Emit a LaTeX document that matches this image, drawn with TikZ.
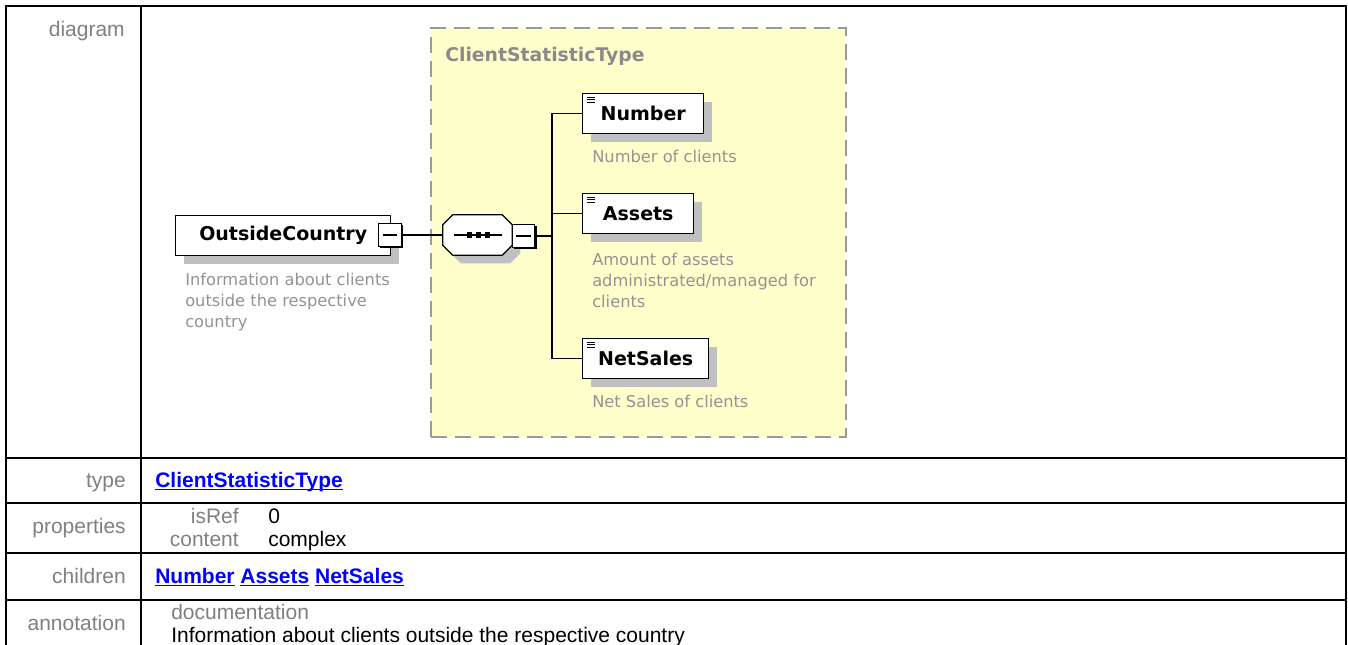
\documentclass[tikz,border=0pt]{standalone}
\usepackage{fontspec}
\setmainfont{Liberation Sans}
\newfontfamily\dvs{DejaVu Sans}
\usetikzlibrary{shadows}
\definecolor{yel}{HTML}{FFFFCC}
\definecolor{dashgray}{HTML}{9A9A9A}
\definecolor{tgray}{HTML}{8A8A8A}
\definecolor{dgray}{HTML}{939393}
\definecolor{lgray}{HTML}{808080}
\definecolor{shgray}{HTML}{C0C0C0}
\definecolor{linkblue}{HTML}{0000FF}
\newcommand\lnk[1]{\setbox0\hbox{#1}\rlap{\rule[-2.4pt]{\wd0}{1.2pt}}\box0\relax}
% octagon around a node: #1 node, #2 #3 offset in px
\newcommand\octo[3]{([shift={(#2+10,#3)}]#1.north west) -- ([shift={(#2-10,#3)}]#1.north east)
  -- ([shift={(#2,#3+10)}]#1.north east) -- ([shift={(#2,#3-10)}]#1.south east)
  -- ([shift={(#2-10,#3)}]#1.south east) -- ([shift={(#2+10,#3)}]#1.south west)
  -- ([shift={(#2,#3-10)}]#1.south west) -- ([shift={(#2,#3+10)}]#1.north west) -- cycle}
\begin{document}
\begin{tikzpicture}[x=0.75pt,y=-0.75pt,
  tline/.style={line width=1.5pt},
  tlabel/.style={inner sep=0, text=lgray, font=\fontsize{15.75pt}{18pt}\selectfont},
  tval/.style={inner sep=0, text=black, font=\fontsize{15.75pt}{18pt}\selectfont},
  tlink/.style={inner sep=0, text=linkblue, font=\fontsize{15.75pt}{18pt}\selectfont\bfseries},
  typebox/.style={draw=dashgray, fill=yel, line width=1.5pt, dash pattern=on 12pt off 6pt, inner sep=0, anchor=north west},
  elem/.style={draw=black, line width=1.1pt, fill=white, inner sep=0, minimum height=30pt, anchor=north west,
    font=\dvs\bfseries\fontsize{14.25pt}{16pt}\selectfont,
    drop shadow={shadow xshift=6pt, shadow yshift=-6pt, fill=shgray, opacity=1}},
  desc/.style={inner sep=0, anchor=north west, align=left, text=dgray, font=\dvs\fontsize{12.2pt}{15.75pt}\selectfont},
  minus/.style={draw=black, line width=0.8pt, fill=white, minimum size=17pt, inner sep=0,
    drop shadow={shadow xshift=1.3pt, shadow yshift=-1.3pt, fill=black, opacity=1},
    path picture={\draw[line width=0.9pt] ([xshift=3pt]path picture bounding box.west) -- ([xshift=-3pt]path picture bounding box.east);}},
  seqbox/.style={inner sep=0, minimum width=51.75pt, minimum height=30pt},
  conn/.style={line width=1pt},
  icon/.style={line width=0.7pt},
]
\useasboundingbox (0,0) rectangle (1348,645);
% table
\draw[tline] (6,646) -- (6,6) -- (1346,6) -- (1346,646);
\draw[tline] (141,6) -- (141,646);
\foreach \yy in {458,503,553,600} \draw[tline] (6,\yy) -- (1346,\yy);
\node[tlabel, anchor=base east] (ldiagram) at (125,37) {diagram};
\node[tlabel, anchor=base east] (ltype) at (126,487) {type};
\node[tlabel, anchor=base east] (lprops) at (126,533) {properties};
\node[tlabel, anchor=base east] (lchildren) at (126,583) {children};
\node[tlabel, anchor=base east] (lannot) at (126,630) {annotation};
\node[tlink, anchor=base west] (vtype) at (155,487) {\lnk{ClientStatisticType}};
\node[tlabel, anchor=base east] (kisref) at (239,523) {isRef};
\node[tval, anchor=base west] (visref) at (268,523) {0};
\node[tlabel, anchor=base east] (kcontent) at (239,546) {content};
\node[tval, anchor=base west] (vcontent) at (268,546) {complex};
\node[tlink, anchor=base west] (vchildren) at (155,583) {\lnk{Number} \lnk{Assets} \lnk{NetSales}};
\node[tlabel, anchor=base west] (kdoc) at (171,619) {documentation};
\node[tval, anchor=base west] (vdoc) at (171,642) {Information about clients outside the respective country};
% diagram
\node[typebox, minimum width=311.25pt, minimum height=306.75pt] (ctype) at (430,27) {};
\node[inner sep=0, anchor=base west, text=tgray, font=\dvs\bfseries\fontsize{14.1pt}{16pt}\selectfont] (ctitle) at (445,62) {ClientStatisticType};
\node[elem, minimum width=161.25pt] (oc) at (175,215) {OutsideCountry};
\node[minus] (ocm) at (390,235) {};
\node[desc] (ocd) at (185,272.6) {Information about clients\\outside the respective\\country};
\node[seqbox] (seq) at (477.5,235) {};
\fill[shgray] \octo{seq}{8}{8};
\filldraw[fill=white, draw=black, line width=1pt] \octo{seq}{0}{0};
\draw[line width=0.9pt] ([shift={(-23.5,0)}]seq.center) -- ([shift={(24.5,0)}]seq.center);
\foreach \dx in {-8,1,10}
  \fill ([shift={(\dx-2.6,-2.6)}]seq.center) rectangle ([shift={(\dx+2.6,2.6)}]seq.center);
\node[minus] (sqm) at (523.5,236) {};
\coordinate (tr) at (552,236);
\node[elem, minimum width=90.75pt] (num) at (582,93) {Number};
\node[desc] (numd) at (592,149.6) {Number of clients};
\node[elem, minimum width=83.25pt] (ass) at (582,193) {Assets};
\node[desc] (assd) at (592,252.6) {Amount of assets\\administrated/managed for\\clients};
\node[elem, minimum width=94.5pt] (net) at (582,338) {NetSales};
\node[desc] (netd) at (592,394.6) {Net Sales of clients};
\foreach \n in {num,ass,net}{
  \draw[icon] ([shift={(5,4)}]\n.north west) -- +(8,0);
  \draw[icon] ([shift={(5,6.7)}]\n.north west) -- +(8,0);
  \draw[icon] ([shift={(5,9.4)}]\n.north west) -- +(8,0);
}
\draw[conn] (ocm.east) -- (seq.west);
\draw[conn] (sqm.east) -- (tr);
\draw[conn] (tr) |- (num.west);
\draw[conn] (tr) |- (ass.west);
\draw[conn] (tr) |- (net.west);
\end{tikzpicture}
\end{document}
